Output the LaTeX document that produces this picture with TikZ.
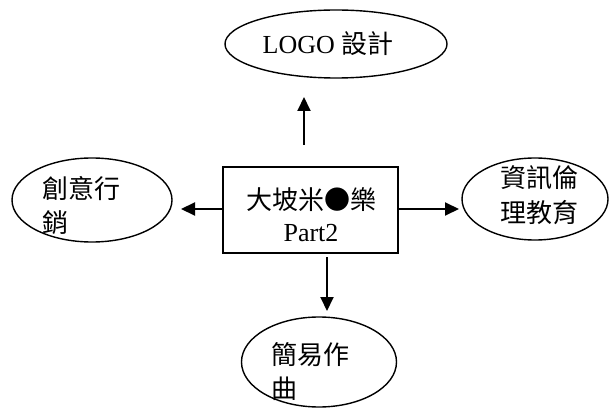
\documentclass[tikz,border=0pt]{standalone}
\usepackage{fontspec}
\setmainfont{Liberation Serif}
\newfontfamily\cjk{Noto Sans CJK TC}
\usetikzlibrary{shapes.geometric,arrows.meta}
\begin{document}
\begin{tikzpicture}[x=1pt,y=-1pt,
  oval/.style={draw=black,line width=1.4pt,ellipse,inner sep=0pt},
  box/.style={draw=black,line width=1.6pt,rectangle,inner sep=0pt},
  lbl/.style={inner sep=0pt,anchor=west,font=\fontsize{26}{32}\selectfont},
  conn/.style={line width=2pt,-{Triangle[length=14pt,width=13pt]}}]
\useasboundingbox (0,0) rectangle (611,409);
% ellipses and box
\node[oval,minimum width=222pt,minimum height=68pt] (logo) at (336,44) {};
\node[oval,minimum width=160pt,minimum height=84pt] (mkt) at (92,200) {};
\node[oval,minimum width=146pt,minimum height=82pt] (eth) at (535,199) {};
\node[oval,minimum width=155pt,minimum height=90pt] (mus) at (319,362) {};
\node[box,minimum width=175pt,minimum height=86pt] (main) at (310.5,210) {};
% labels
\node[lbl,anchor=center] (tlogo) at (328,44) {LOGO {\cjk 設計}};
\node[lbl] (tm1) at (42,189) {\cjk 創意行};
\node[lbl] (tm2) at (42,223) {\cjk 銷};
\node[lbl] (te1) at (500,178) {\cjk 資訊倫};
\node[lbl] (te2) at (500,213) {\cjk 理教育};
\node[lbl] (tu1) at (271,355) {\cjk 簡易作};
\node[lbl] (tu2) at (271,389) {\cjk 曲};
\node[lbl,anchor=center] (tb1) at (311,200) {\cjk 大坡米●樂};
\node[lbl,anchor=center] (tb2) at (311,233) {Part2};
% connector ends
\coordinate (upS) at (304,145);
\coordinate (upE) at (304,97);
\coordinate (lfE) at (181,209);
\coordinate (rtE) at (459,209);
\coordinate (dnS) at (327,257);
\coordinate (dnE) at (327,311);
\draw[conn] (upS) -- (upE);
\draw[conn] (main.west |- lfE) -- (lfE);
\draw[conn] (main.east |- rtE) -- (rtE);
\draw[conn] (dnS) -- (dnE);
\end{tikzpicture}
\end{document}
